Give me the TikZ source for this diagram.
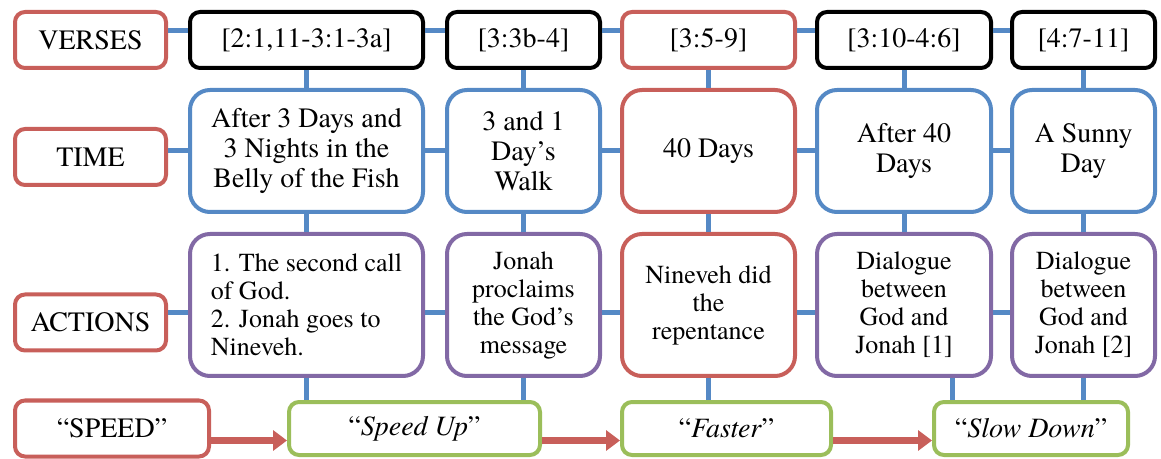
\documentclass[tikz,border=0pt]{standalone}
\usepackage{fontspec}
\setmainfont{TeX Gyre Termes}
\usetikzlibrary{arrows.meta}

\definecolor{boxred}{RGB}{200,95,90}
\definecolor{boxblue}{RGB}{85,137,197}
\definecolor{boxpurple}{RGB}{130,105,165}
\definecolor{boxgreen}{RGB}{155,190,90}

\tikzset{
  box/.style={draw, line width=2pt, fill=white, align=center, inner sep=1pt,
    rounded corners=5pt, font=\fontsize{14}{15}\selectfont},
  head/.style={box, draw=boxred, minimum width=75.5pt, minimum height=28pt},
  verse/.style={box, draw=black, minimum height=28pt},
  timebox/.style={box, draw=boxblue, minimum height=61pt, rounded corners=10pt},
  act/.style={box, draw=boxpurple, minimum height=71pt, rounded corners=10pt,
    font=\fontsize{13}{14}\selectfont},
  pace/.style={box, draw=boxgreen, minimum height=26.5pt},
  link/.style={draw=boxblue, line width=2.5pt},
  flow/.style={draw=boxred, line width=3.5pt, -{Triangle[length=7pt,width=10pt]}},
}

\begin{document}
\begin{tikzpicture}[x=0.5pt,y=-0.5pt]
        \useasboundingbox (0,0) rectangle (1161,459);
        % row heads
        \node[head] (verses) at (90.5,40) {VERSES};
        \node[head] (time) at (90.5,157) {TIME};
        \node[head] (actions) at (90.5,322.5) {ACTIONS};
        \node[head, minimum width=97pt] (speed) at (112,428.5) {“SPEED”};
        % verses
        \node[verse, minimum width=116.5pt] (v1) at (306.5,40) {[2:1,11-3:1-3a]};
        \node[verse, minimum width=76.5pt] (v2) at (523.5,40) {[3:3b-4]};
        \node[verse, draw=boxred, minimum width=86.5pt] (v3) at (708.5,40) {[3:5-9]};
        \node[verse, minimum width=87pt] (v4) at (904,40) {[3:10-4:6]};
        \node[verse, minimum width=71.5pt] (v5) at (1083.5,40) {[4:7-11]};
        % time
        \node[timebox, minimum width=116.5pt] (t1) at (306.5,151) {After 3 Days and\\3 Nights in the\\Belly of the Fish};
        \node[timebox, minimum width=76.5pt] (t2) at (523.5,151) {3 and 1\\Day’s\\Walk};
        \node[timebox, draw=boxred, minimum width=86.5pt] (t3) at (708.5,151) {40 Days};
        \node[timebox, minimum width=87pt] (t4) at (904,151) {After 40\\Days};
        \node[timebox, minimum width=71.5pt] (t5) at (1083.5,151) {A Sunny\\Day};
        % actions
        \node[act, align=left, minimum width=116.5pt] (a1) at (306.5,305) {1. The second call\\of God.\\2. Jonah goes to\\Nineveh.};
        \node[act, minimum width=76.5pt] (a2) at (523.5,305) {Jonah\\proclaims\\the God’s\\message};
        \node[act, draw=boxred, minimum width=86.5pt] (a3) at (708.5,305) {Nineveh did\\the\\repentance};
        \node[act, minimum width=87pt] (a4) at (904,305) {Dialogue\\between\\God and\\Jonah [1]};
        \node[act, minimum width=71.5pt] (a5) at (1083.5,305) {Dialogue\\between\\God and\\Jonah [2]};
        % speed
        \node[pace, minimum width=125.5pt] (up) at (414.5,428.5) {“\textit{Speed Up}”};
        \node[pace, minimum width=104.5pt] (fast) at (726.5,428.5) {“\textit{Faster}”};
        \node[pace, minimum width=97pt] (slow) at (1031,428.5) {“\textit{Slow Down}”};

        % links
        \draw[link] ([yshift=4.5pt]v1.west -| verses.east) -- ([yshift=4.5pt]v1.west);
        \draw[link] (t1.west -| time.east) -- (t1.west);
        \draw[link] ([yshift=-4pt]a1.west -| actions.east) -- ([yshift=-4pt]a1.west);
        \foreach \r/\s in {v/4.5pt,t/0pt,a/-4pt} {
          \draw[link] ([yshift=\s]\r1.east) -- ([yshift=\s]\r2.west);
          \draw[link] ([yshift=\s]\r2.east) -- ([yshift=\s]\r3.west);
          \draw[link] ([yshift=\s]\r3.east) -- ([yshift=\s]\r4.west);
          \draw[link] ([yshift=\s]\r4.east) -- ([yshift=\s]\r5.west);
        }
        \foreach \i in {1,...,5} {
          \draw[link] (v\i.south) -- (t\i.north);
          \draw[link] (t\i.south) -- (a\i.north);
        }
        \draw[link] (a1.south) -- (a1.south |- up.north);
        \draw[link] (a2.south) -- (a2.south |- up.north);
        \draw[link] (a3.south) -- (a3.south |- fast.north);
        \draw[link] ([xshift=24pt]a4.south) -- ([xshift=24pt]a4.south |- slow.north);
        \draw[link] (a5.south) -- (a5.south |- slow.north);
        % arrows
        \draw[flow] ([yshift=-6pt]speed.east) -- ([yshift=-6pt]up.west);
        \draw[flow] ([yshift=-6pt]up.east) -- ([yshift=-6pt]fast.west);
        \draw[flow] ([yshift=-6pt]fast.east) -- ([yshift=-6pt]slow.west);
      \end{tikzpicture}
\end{document}
